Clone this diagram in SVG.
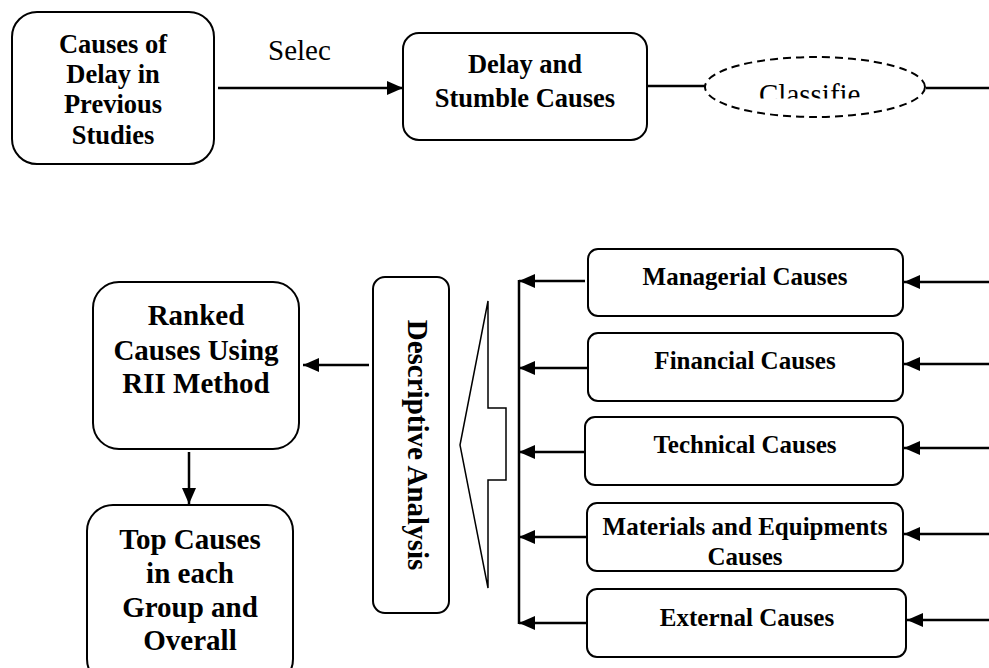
<svg xmlns="http://www.w3.org/2000/svg" width="989" height="668" viewBox="0 0 989 668">
<style>
.box{fill:#fff;stroke:#000;stroke-width:2}
.ln{fill:none;stroke:#000;stroke-width:2.5}
.arr{fill:none;stroke:#000;stroke-width:2.5;marker-end:url(#ah)}
.b{font-family:"Liberation Serif","Times New Roman",serif;font-weight:bold;fill:#000;text-anchor:middle}
.r{font-family:"Liberation Serif","Times New Roman",serif;fill:#000}
</style>
<defs>
<marker id="ah" markerUnits="userSpaceOnUse" markerWidth="16" markerHeight="14" refX="16" refY="7" orient="auto">
<path d="M0,0 L16,7 L0,14 z" fill="#000"/>
</marker>
<clipPath id="clipC"><rect x="700" y="60" width="230" height="38.5"/></clipPath>
</defs>

<g id="connectors">
<line class="arr" x1="218" y1="88" x2="403" y2="88"/>
<line class="ln" x1="647" y1="86" x2="705" y2="86"/>
<line class="ln" x1="926" y1="88" x2="989" y2="88"/>
<line class="arr" x1="369" y1="365" x2="303" y2="365"/>
<line class="arr" x1="189" y1="452" x2="189" y2="504"/>
<line class="ln" x1="519" y1="280" x2="519" y2="624"/>
<line class="arr" x1="585" y1="281" x2="519" y2="281"/>
<line class="arr" x1="588" y1="368" x2="519" y2="368"/>
<line class="arr" x1="585" y1="452" x2="519" y2="452"/>
<line class="arr" x1="586" y1="537" x2="519" y2="537"/>
<line class="arr" x1="588" y1="623" x2="519" y2="623"/>
<line class="arr" x1="989" y1="282" x2="904" y2="282"/>
<line class="arr" x1="989" y1="364" x2="904" y2="364"/>
<line class="arr" x1="989" y1="448" x2="904" y2="448"/>
<line class="arr" x1="989" y1="534" x2="904" y2="534"/>
<line class="arr" x1="989" y1="620" x2="907" y2="620"/>
<text class="r" x="268" y="60" font-size="29">Selec</text>
</g>

<g id="previous-studies">
<rect class="box" x="12" y="12" width="202" height="152" rx="25"/>
<text class="b" font-size="26.5" x="113" y="53">Causes of</text>
<text class="b" font-size="26.5" x="113" y="83">Delay in</text>
<text class="b" font-size="26.5" x="113" y="113">Previous</text>
<text class="b" font-size="26.5" x="113" y="144">Studies</text>
</g>

<g id="delay-stumble">
<rect class="box" x="403" y="33" width="244" height="107" rx="16"/>
<text class="b" font-size="26.5" x="525" y="72.5">Delay and</text>
<text class="b" font-size="26.5" x="525" y="107">Stumble Causes</text>
</g>

<g id="classified">
<ellipse cx="815" cy="87" rx="110" ry="30" fill="#fff" stroke="#000" stroke-width="2" stroke-dasharray="8,5"/>
<text class="r" font-size="29" x="759" y="104" clip-path="url(#clipC)">Classifie</text>
</g>

<g id="ranked">
<rect class="box" x="93" y="282" width="206" height="167" rx="26"/>
<text class="b" font-size="29" x="196" y="325">Ranked</text>
<text class="b" font-size="29" x="196" y="360">Causes Using</text>
<text class="b" font-size="29" x="196" y="393">RII Method</text>
</g>

<g id="top-causes">
<rect class="box" x="87" y="505" width="206" height="180" rx="26"/>
<text class="b" font-size="29" x="190" y="549">Top Causes</text>
<text class="b" font-size="29" x="190" y="583">in each</text>
<text class="b" font-size="29" x="190" y="617">Group and</text>
<text class="b" font-size="29" x="190" y="650">Overall</text>
</g>

<g id="descriptive">
<rect class="box" x="373" y="277" width="76" height="336" rx="12"/>
<text class="b" font-size="29" transform="translate(408,445) rotate(90)" x="0" y="0">Descriptive Analysis</text>
</g>

<g id="big-arrow">
<polygon points="460,445 488,301 488,408 506,408 506,480 488,480 488,588" fill="#fff" stroke="#000" stroke-width="1.5" stroke-linejoin="miter"/>
</g>

<g id="managerial">
<rect class="box" x="588" y="249" width="315" height="67" rx="10"/>
<text class="b" font-size="25" x="745" y="285">Managerial Causes</text>
</g>
<g id="financial">
<rect class="box" x="588" y="333" width="315" height="68" rx="10"/>
<text class="b" font-size="25" x="745" y="369">Financial Causes</text>
</g>
<g id="technical">
<rect class="box" x="585" y="417" width="318" height="68" rx="10"/>
<text class="b" font-size="25" x="745" y="453">Technical Causes</text>
</g>
<g id="materials">
<rect class="box" x="587" y="503" width="316" height="68" rx="10"/>
<text class="b" font-size="25" x="745" y="535">Materials and Equipments</text>
<text class="b" font-size="25" x="745" y="565">Causes</text>
</g>
<g id="external">
<rect class="box" x="587" y="589" width="319" height="68" rx="10"/>
<text class="b" font-size="25" x="747" y="626">External Causes</text>
</g>
</svg>
